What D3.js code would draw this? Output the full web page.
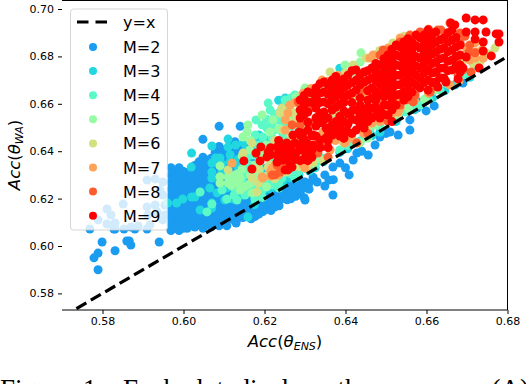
<!DOCTYPE html>
<html>
<head>
<meta charset="utf-8">
<title>Acc scatter</title>
<script src="https://d3js.org/d3.v7.min.js"></script>
<style>
  html, body { margin:0; padding:0; background:#fff; overflow:hidden; }
  svg { display:block; }
  text { font-family:"DejaVu Sans", sans-serif; fill:#000; }
  .tick text { font-size:11px; }
  .axis-label { font-size:16.5px; }
  .legend-label { font-size:16px; }
  .caption { font-family:"Liberation Serif", serif; font-size:27px; word-spacing:5.8px; }
</style>
</head>
<body>
<svg id="chart" width="526" height="384"></svg>
<script>
// Rows are [x, y, y, ...]: one Acc(ENS) value with the Acc(WA) values read above it.
const m2 = [
  [.5799,.6017],[.5789,.597,.590],[.5779,.595],[.5831,.598],[.586,.6021],[.587,.6004],[.5866,.6021],[.594,.6017],
  [.5769,.6072],[.5828,.6072],[.5853,.6072],[.588,.6072],[.591,.6072],[.6130,.6097],
  [.5811,.6156,.6093],[.5821,.6131],[.5789,.611],[.5831,.6097,.6072],[.5851,.6177],[.587,.608],[.5888,.6084],
  [.591,.6165,.6278],[.5912,.6131],[.5917,.6089],[.593,.6173,.6283],[.5949,.611,.627,.6215],[.5935,.6143],
  [.5942,.6236],[.5954,.6173,.6131],
  [.5969,.633,.630,.627,.624,.621,.618,.615,.612,.609,.6065],
  [.5979,.6315,.6285,.6255,.6225,.6195,.6165,.6135,.6105,.6075],
  [.5989,.633,.6295,.6265,.6235,.6205,.6175,.6145,.6115,.6085,.6065],
  [.5999,.6315,.628,.625,.622,.619,.616,.613,.610,.6075],
  [.6009,.631,.628,.625,.622,.619,.616,.613,.610,.6075],
  [.6019,.6325,.6295,.6265,.6235,.6205,.6175,.6145,.6115,.6085],
  [.6028,.634,.631,.628,.625,.622,.619,.616,.613,.610,.608],
  [.6038,.6355,.6325,.6295,.6265,.6235,.6205,.6175,.6145,.6115,.609],
  [.6048,.645,.6375,.634,.631,.628,.625,.622,.619,.616,.613,.610,.6075],
  [.6058,.636,.6325,.6295,.6265,.6235,.6205,.6175,.6145,.6115,.609],
  [.6068,.637,.634,.631,.628,.625,.622,.619,.616,.613,.610,.608],
  [.6078,.6395,.6355,.6325,.6295,.6265,.6235,.6205,.6175,.6145,.6115,.609],
  [.6088,.6505,.642,.6385,.635,.632,.629,.626,.623,.620,.617,.614,.611,.6085],
  [.6098,.6405,.6365,.6335,.6305,.6275,.6245,.6215,.6185,.6155,.6125,.6095],
  [.6107,.640,.637,.634,.631,.628,.625,.622,.619,.616,.613,.6105,.6085],
  [.6117,.6425,.6385,.6355,.6325,.6295,.6265,.6235,.6205,.6175,.6145,.612],
  [.6127,.644,.640,.637,.634,.631,.628,.625,.622,.619,.616,.613,.6105],
  [.6137,.6415,.6385,.6355,.6325,.6295,.6265,.6235,.6205,.6175,.6145,.612],
  [.6140,.6505],
  [.6147,.643,.639,.636,.633,.630,.627,.624,.621,.618,.615,.612],
  [.6157,.6405,.6375,.6345,.6315,.6285,.6255,.6225,.6195,.6165,.6135],
  [.6167,.642,.636,.632,.628,.624,.620,.617,.614,.6115],
  [.6177,.634,.630,.626,.622,.6185,.6155,.6125],
  [.6186,.640,.635,.630,.626,.622,.619,.616,.6135],
  [.6196,.6325,.6275,.6235,.6205,.6175,.6145],
  [.6206,.638,.633,.628,.624,.621,.618,.6155],
  [.6216,.6295,.6255,.6225,.6195,.6165,.615],
  [.6226,.632,.627,.624,.621,.6185,.6165],
  [.6236,.628,.6255,.6225,.6195,.617],
  [.6246,.630,.626,.6235,.620,.6217],
  [.6256,.627,.6245,.6215,.6195],
  [.6265,.628,.625,.622,.6199],
  [.6277,.6265,.6235,.621],
  [.6288,.6265,.624,.622,.6232],[.63,.6194,.627],[.6298,.6204,.6245],[.627,.6249],[.631,.6265,.624],[.633,.627],[.632,.629],
  [.6349,.6253,.63],[.6359,.6278],[.6369,.6215,.6333],[.637,.628],[.6386,.635],[.64,.633],[.6409,.63],
  [.6419,.6363],[.6428,.6392],[.644,.64],[.6456,.6384],[.6473,.6426],[.6485,.646],[.650,.6475],[.651,.6481],
  [.653,.6468],[.6559,.6489,.6532],[.6577,.6582],[.6584,.6608],[.6599,.657],[.6619,.6591],[.667,.668],[.669,.6688]
];
const m3 = [
  [.602,.6392],[.6019,.6333],[.607,.6422,.635,.6312,.6287,.6181,.616],[.611,.6451,.6418],[.6079,.6371],[.6129,.6426],
  [.6148,.6435],[.609,.6371],[.6159,.6122],[.5983,.6181],[.5961,.6181],[.602,.6207],[.5998,.6198],[.6028,.6207],
  [.6041,.6152],[.6083,.6224],[.6065,.6245],[.6102,.6194],[.6107,.6245,.6312],[.6122,.6198],[.6163,.6232],
  [.6174,.6435],[.6187,.6468],[.6251,.6624],[.6245,.6586],[.6386,.675,.6395],[.6196,.6232],[.622,.6274],
  [.6262,.6287],[.6263,.6295],[.6311,.6316],[.6325,.633],[.6436,.6442],[.6485,.648],[.657,.6575],[.667,.668],[.6707,.6712],
  [.6115,.6385,.6355],[.6135,.6365,.633],[.6155,.6405,.6365],[.6095,.6345,.6315],[.6125,.6295,.6265],[.6145,.6255,.6215],
  [.6185,.6415,.6445],[.6175,.6205,.6175],[.6205,.6445,.6255],[.6215,.624,.6265],[.6245,.6295,.6265],[.6285,.63],[.6345,.6355],
  [.6405,.641],[.6465,.6465],[.6525,.6525],[.6615,.6625],[.6645,.6655],[.6235,.6615],[.6265,.6605]
];
const m4 = [
  [.6179,.6532],[.6209,.6603],[.6196,.646],[.6206,.6498],[.6219,.6519,.6456,.6257],[.6233,.6532],[.6246,.6511],
  [.6177,.6468,.6194],[.6194,.6511,.6236],[.6214,.6574,.6371],[.6238,.6565,.6363],[.6263,.654],[.6169,.6384],
  [.6199,.6405],[.6251,.6447,.6616],[.6226,.6405],[.6041,.6228],[.6058,.6144],[.607,.6177],[.6107,.6198],
  [.6132,.6194,.6257],[.6095,.6236],[.6152,.6215,.63],[.6243,.6287],[.6283,.6312],[.6325,.6342],[.6386,.6405],
  [.6423,.6439],[.646,.6489],[.651,.6532],[.6547,.6565],[.6584,.6595],[.6633,.6658],[.6688,.6721],[.6722,.6764],
  [.63,.6658],[.6275,.6637,.6287],[.6362,.6679],[.6164,.6342,.6257],[.6189,.6321],
  [.6225,.6555,.649,.6425,.636,.6325],[.6185,.6425,.6375,.6335],[.6205,.6535,.6425,.6405,.6285],[.6245,.6475,.6425,.6345],
  [.6265,.6505,.6625],[.6285,.6605,.6495],[.6155,.6375,.6335],[.6145,.6295,.6275],[.6125,.6215,.6245],[.6175,.6275,.624],
  [.6195,.6265,.6205],[.6235,.6245,.6265],[.6265,.6305],[.6305,.6325],[.6345,.6365,.637],[.6405,.6425],[.6445,.646],
  [.6485,.6505],[.6525,.6545],[.6565,.658],[.6605,.662],[.665,.6685],[.67,.673]
];
const m5 = [
  [.6159,.6511],[.6157,.6481],[.6147,.646],[.609,.6338,.6292,.6266],[.611,.6292,.6266],[.6127,.63],[.614,.6287,.6236],
  [.6152,.625],[.6169,.6224],[.6189,.6278],[.6214,.6312,.6481],[.6238,.6342],[.6438,.6815],[.6436,.6776,.6435],
  [.6278,.6629],[.63,.6667],[.6221,.6532],[.6246,.6561],[.6164,.6405],[.6194,.6384,.6553],[.6177,.6342],
  [.6288,.6342],[.6332,.6371],[.6473,.6511],[.6522,.6553],[.6621,.6658],[.6263,.6582],[.6399,.6764],[.6337,.665],
  [.6118,.6285,.6255],[.6135,.6265,.6305],[.6165,.6265,.63],[.6185,.6345,.6305],[.6205,.6295,.625],[.6225,.6335,.6285],
  [.6255,.633,.6315],[.6275,.6365],[.6145,.6325,.638],[.6165,.6445],[.6205,.6425],[.6235,.6495],[.6255,.6545],[.6315,.6635],
  [.6355,.667],[.6415,.6735],[.6455,.6455],[.6505,.6535],[.6555,.658],[.6595,.662]
];
const m6 = [
  [.6769,.6835],[.6707,.6793],[.669,.6785],[.6169,.6435,.6287],[.6147,.6392],[.611,.6321],[.6181,.6228],
  [.6243,.6582],[.627,.6523],[.6283,.6519],[.6214,.6342],[.6307,.6519],[.632,.635],[.6238,.6561],[.6275,.6561,.6519],
  [.6473,.6806],[.6451,.6793],[.6517,.6857],[.6419,.6764,.6629],[.6399,.673],[.6431,.6435],[.6253,.6312],
  [.6209,.6333],[.653,.6561],[.648,.6586],[.6443,.6574],[.6374,.6561],[.6246,.6489],[.629,.6511],[.6295,.6363],
  [.6362,.6734],[.6312,.6616],[.6732,.6776],
  [.6185,.6265,.6325],[.6205,.6375,.6405],[.6225,.6445,.6285],[.6265,.6465,.6365],[.6285,.6405,.6335],[.6305,.633,.6625],
  [.6345,.636],[.6395,.6435],[.6455,.6495],[.6425,.6745],[.6485,.6825],[.6545,.6885],[.6715,.677],[.6755,.681]
];
const m7 = [
  [.612,.635],[.6263,.6595,.6426],[.6258,.6561],[.6251,.6532,.6489],[.6194,.6291],[.6196,.6287],[.63,.6329],
  [.6332,.6456],[.633,.6544],[.627,.6511],[.6288,.6544,.6363],[.6325,.6392],[.632,.6511],[.6344,.6481],[.6448,.6637],
  [.6416,.6603],[.6493,.6603],[.653,.6565],[.6465,.6519],[.6399,.6435],[.6381,.6721],[.6468,.6806],[.646,.6793],
  [.6505,.6835],[.6559,.6878],[.6535,.6616,.6878,.6582],[.6525,.6574],[.65,.6565],[.6475,.6574],[.6698,.6835],
  [.6722,.6819],[.6707,.6785],[.672,.6857,.6793],[.6658,.6679],[.674,.6793],[.6737,.6827],[.6226,.6342],[.6219,.6329],
  [.6362,.6405],[.6342,.67],
  [.6215,.6295,.6315],[.6235,.63,.633],[.6275,.6455,.6605],[.6295,.6645,.6345],[.6315,.6665,.637],[.6355,.6425,.6695],
  [.6375,.6445,.669],[.6415,.6455],[.6445,.6475,.6675],[.6485,.6525],[.6515,.656],[.6565,.686],[.657,.6615],[.6605,.6645],[.668,.6695]
];
const m8 = [
  [.6591,.6899],[.6636,.6911,.6869],[.6683,.6857,.6899],[.6705,.6819],[.671,.6734],[.669,.6743],[.6678,.6721],
  [.6616,.6671],[.6549,.6616],[.6572,.6637],[.651,.6827],[.6493,.6827],[.6584,.6903],[.6628,.6911],[.6658,.6941],
  [.6609,.665],[.6567,.6608],[.6535,.6595,.6861],[.6226,.63],[.6219,.63],[.6268,.6511],[.6231,.6342],[.632,.6519],
  [.63,.6561,.6405],[.6332,.6392],[.6293,.6595],[.6312,.6582],[.6283,.6608],[.6362,.6502],[.6369,.6468],[.6428,.6435],
  [.6357,.6375],[.6288,.6511],[.6386,.6511],[.6473,.6616],[.6436,.6658],[.6399,.6658],[.6238,.6405,.6312],[.6559,.689],
  [.6707,.6848],[.6485,.6806],[.6646,.67],
  [.6245,.633],[.6265,.6375],[.6305,.6365],[.6345,.642],[.6395,.6455],[.6455,.6475],[.6505,.6525],[.6605,.6915],
  [.6675,.6775],[.672,.6815],[.6695,.6885]
];
const m9 = [
  [.6149,.6359],[.6169,.6325],[.6179,.6392],[.6191,.6418],[.6189,.6359],[.6209,.6397],[.6206,.6376],
  [.6231,.6418,.6384,.6354],[.6246,.6418,.6363],[.6263,.6342],[.6258,.6321],[.6278,.6392],[.6256,.6371],[.6268,.6333],
  [.6251,.6321],[.6295,.6477],[.6305,.6435],[.627,.6397,.6468],[.632,.6426,.6468],[.6337,.6447,.6415],[.6352,.6456,.6498],[.6302,.6392],
  [.6215,.6415,.6385],[.6235,.6445,.6395,.636],[.6255,.6435,.64],[.6275,.6435,.6365],[.6295,.6445,.6405,.6365],
  [.6288,.6616,.6574,.654,.6468,.6405,.636],[.6285,.6425,.648],[.6265,.6425,.6395],[.6245,.6395],
  [.6298,.6635,.6595,.6555,.645,.6415],
  [.6307,.665,.6608,.6565,.6523,.6489,.6375,.6405,.636],
  [.6317,.6645,.6605,.6465,.6405,.6375],
  [.6327,.6667,.6624,.6582,.654,.6506,.6464],
  [.6337,.6685,.6645,.6605,.656,.652],
  [.6347,.6692,.665,.6608,.6565,.6532],
  [.6357,.668,.664,.66,.654,.6485,.6445,.6415],
  [.6367,.67,.6658,.6616,.6574,.6511,.6468],
  [.6376,.6715,.667,.663,.6585,.6525,.649],
  [.6386,.6692,.665,.6599,.6548,.6506,.6464],
  [.6396,.6705,.667,.6625,.6605,.657,.6525,.6485,.6455],
  [.6406,.6721,.6679,.6637,.6557,.6515,.6481],
  [.6416,.674,.669,.6645,.6605,.657,.6535,.6475],
  [.6426,.6743,.67,.6658,.6574,.6532,.6489],
  [.6436,.672,.668,.6625,.6595,.6555,.6515],
  [.6446,.6734,.6692,.6574,.6532,.6498],
  [.6455,.674,.67,.6655,.6615,.6585,.656,.6525],
  [.6465,.6751,.6709,.6667,.6624,.6582,.654],
  [.6475,.677,.6735,.6695,.665,.6615,.6585,.655],
  [.6485,.6764,.6721,.6679,.6637,.6574,.654],
  [.6495,.679,.6745,.67,.666,.663,.6595,.6555],
  [.6505,.6806,.6764,.6721,.6679,.6637,.6595,.6553],
  [.6515,.683,.6785,.6745,.67,.666,.662,.6575,.6525],
  [.6525,.6848,.6806,.6764,.6721,.6679,.6637,.6595],
  [.6534,.684,.68,.676,.672,.668,.664],
  [.6544,.6861,.6819,.6776,.6734,.6692,.665,.6616],
  [.6554,.6875,.684,.68,.6755,.6715,.667,.663],
  [.6564,.6861,.6819,.6776,.6734,.6692,.665],
  [.6574,.689,.6845,.68,.676,.672,.668],
  [.6584,.6878,.6835,.6793,.6751,.6709,.6667],
  [.6594,.689,.685,.681,.677,.673,.669],
  [.6604,.6911,.6869,.6827,.6785,.6743,.67,.6658],
  [.6614,.689,.685,.681,.677,.673,.669],
  [.6623,.6903,.6861,.6819,.6776,.6734,.6692],
  [.6633,.687,.683,.679,.675,.671],
  [.6643,.6878,.6835,.6793,.6751,.6709],
  [.6653,.69,.686,.682,.678,.674],
  [.6663,.6911,.6869,.6827,.6785,.6743],
  [.6673,.688,.684,.68,.676],
  [.6683,.6848,.6806,.6764,.6734],
  [.666,.6941],[.667,.6933],[.6698,.6962,.6903,.6797],[.672,.6954,.6903,.6873],[.674,.6954,.6861,.6823],[.6747,.6903],
  [.6772,.6895],[.6779,.6895,.6861],[.676,.6802],[.673,.6751],[.669,.6751],[.6678,.6705],[.6648,.6692],[.6628,.6671]
];
const seriesNames = ["M=2","M=3","M=4","M=5","M=6","M=7","M=8","M=9"];
const seriesRows = [m2,m3,m4,m5,m6,m7,m8,m9];
const seriesColors = ["#1a9cf0","#21d8e0","#5bf9c7","#96fca4","#d2e080","#ffa358","#ff5c2e","#ff0000"];
const xTicks = [0.58,0.60,0.62,0.64,0.66,0.68];
const yTicks = [0.58,0.60,0.62,0.64,0.66,0.68,0.70];
const xDomain = [0.57,0.68];
const yDomain = [0.573,0.7038];

const svg = d3.select('#chart');
const margin = { top:0, right:18.5, bottom:74, left:62 };
const innerWidth = 526 - margin.left - margin.right;
const innerHeight = 384 - margin.top - margin.bottom;

const xScale = d3.scaleLinear().domain(xDomain).range([0,innerWidth]);
const yScale = d3.scaleLinear().domain(yDomain).range([innerHeight,0]);

const g = svg.append('g').attr('transform',`translate(${margin.left},${margin.top})`);

g.append('clipPath').attr('id','plot-clip')
  .append('rect').attr('width',innerWidth).attr('height',innerHeight);

// scatter layers, M=2 first so that M=9 ends up on top
seriesRows.forEach((rows,i) => {
  const points = rows.flatMap(r => r.slice(1).map(y => [r[0],y]));
  g.append('g').selectAll('circle')
    .data(points)
    .join('circle')
    .attr('cx',d => xScale(d[0]))
    .attr('cy',d => yScale(d[1]))
    .attr('r',4.5)
    .attr('fill',seriesColors[i]);
});

// y=x reference line
g.append('line')
  .attr('clip-path','url(#plot-clip)')
  .attr('x1',xScale(xDomain[0])).attr('y1',yScale(xDomain[0]))
  .attr('x2',xScale(xDomain[1])).attr('y2',yScale(xDomain[1]))
  .attr('stroke','#000').attr('stroke-width',3.2)
  .attr('stroke-dasharray','11.5,5.2');

// axes: no left spine in the picture, only ticks
const xAxis = d3.axisBottom(xScale).tickValues(xTicks).tickFormat(d3.format('.2f')).tickSize(4).tickPadding(3);
const yAxis = d3.axisLeft(yScale).tickValues(yTicks).tickFormat(d3.format('.2f')).tickSize(4).tickPadding(4);
g.append('g').attr('transform',`translate(0,${innerHeight})`).call(xAxis).call(a => a.select('.domain').remove());
g.append('g').call(yAxis).call(a => a.select('.domain').remove());

g.append('line').attr('x1',0).attr('x2',innerWidth).attr('y1',innerHeight).attr('y2',innerHeight).attr('stroke','#000');
g.append('line').attr('x1',0).attr('x2',innerWidth).attr('y1',0.5).attr('y2',0.5).attr('stroke','#000');
g.append('line').attr('x1',innerWidth).attr('x2',innerWidth).attr('y1',0).attr('y2',innerHeight).attr('stroke','#000');

// axis labels
const xLabel = svg.append('text').attr('class','axis-label').attr('x',285).attr('y',347).attr('text-anchor','middle');
xLabel.append('tspan').attr('font-style','italic').text('Acc');
xLabel.append('tspan').text('(');
xLabel.append('tspan').attr('font-style','italic').text('θ');
xLabel.append('tspan').attr('font-style','italic').attr('font-size','11px').attr('dy',3).text('ENS');
xLabel.append('tspan').attr('dy',-3).text(')');

const yLabel = svg.append('text').attr('class','axis-label').attr('text-anchor','middle')
  .attr('transform','translate(20,155) rotate(-90)');
yLabel.append('tspan').attr('font-style','italic').text('Acc');
yLabel.append('tspan').text('(');
yLabel.append('tspan').attr('font-style','italic').text('θ');
yLabel.append('tspan').attr('font-style','italic').attr('font-size','11px').attr('dy',3).text('WA');
yLabel.append('tspan').attr('dy',-3).text(')');

// legend
const legend = svg.append('g').attr('transform','translate(70.5,9)');
legend.append('rect').attr('x',0).attr('y',0).attr('width',97).attr('height',221).attr('rx',3)
  .attr('fill','#fff').attr('fill-opacity',0.8).attr('stroke','#ccc').attr('stroke-opacity',0.8);
legend.append('line').attr('x1',6.5).attr('x2',37.5).attr('y1',13).attr('y2',13)
  .attr('stroke','#000').attr('stroke-width',3.2).attr('stroke-dasharray','11.5,7');
legend.append('text').attr('class','legend-label').attr('x',52.5).attr('y',19).text('y=x');
seriesNames.forEach((name,i) => {
  const cy = 38 + i*24.1;
  legend.append('circle').attr('cx',22.5).attr('cy',cy).attr('r',4).attr('fill',seriesColors[i]);
  legend.append('text').attr('class','legend-label').attr('x',52.5).attr('y',cy+6).text(name);
});

// caption under the figure, cut off by the crop
svg.append('text').attr('class','caption').attr('x',0).attr('y',398).text('Figure 1:');
svg.append('text').attr('class','caption').attr('x',123).attr('y',398)
  .text('Each dot displays the accuracy (A)');
</script>
</body>
</html>
